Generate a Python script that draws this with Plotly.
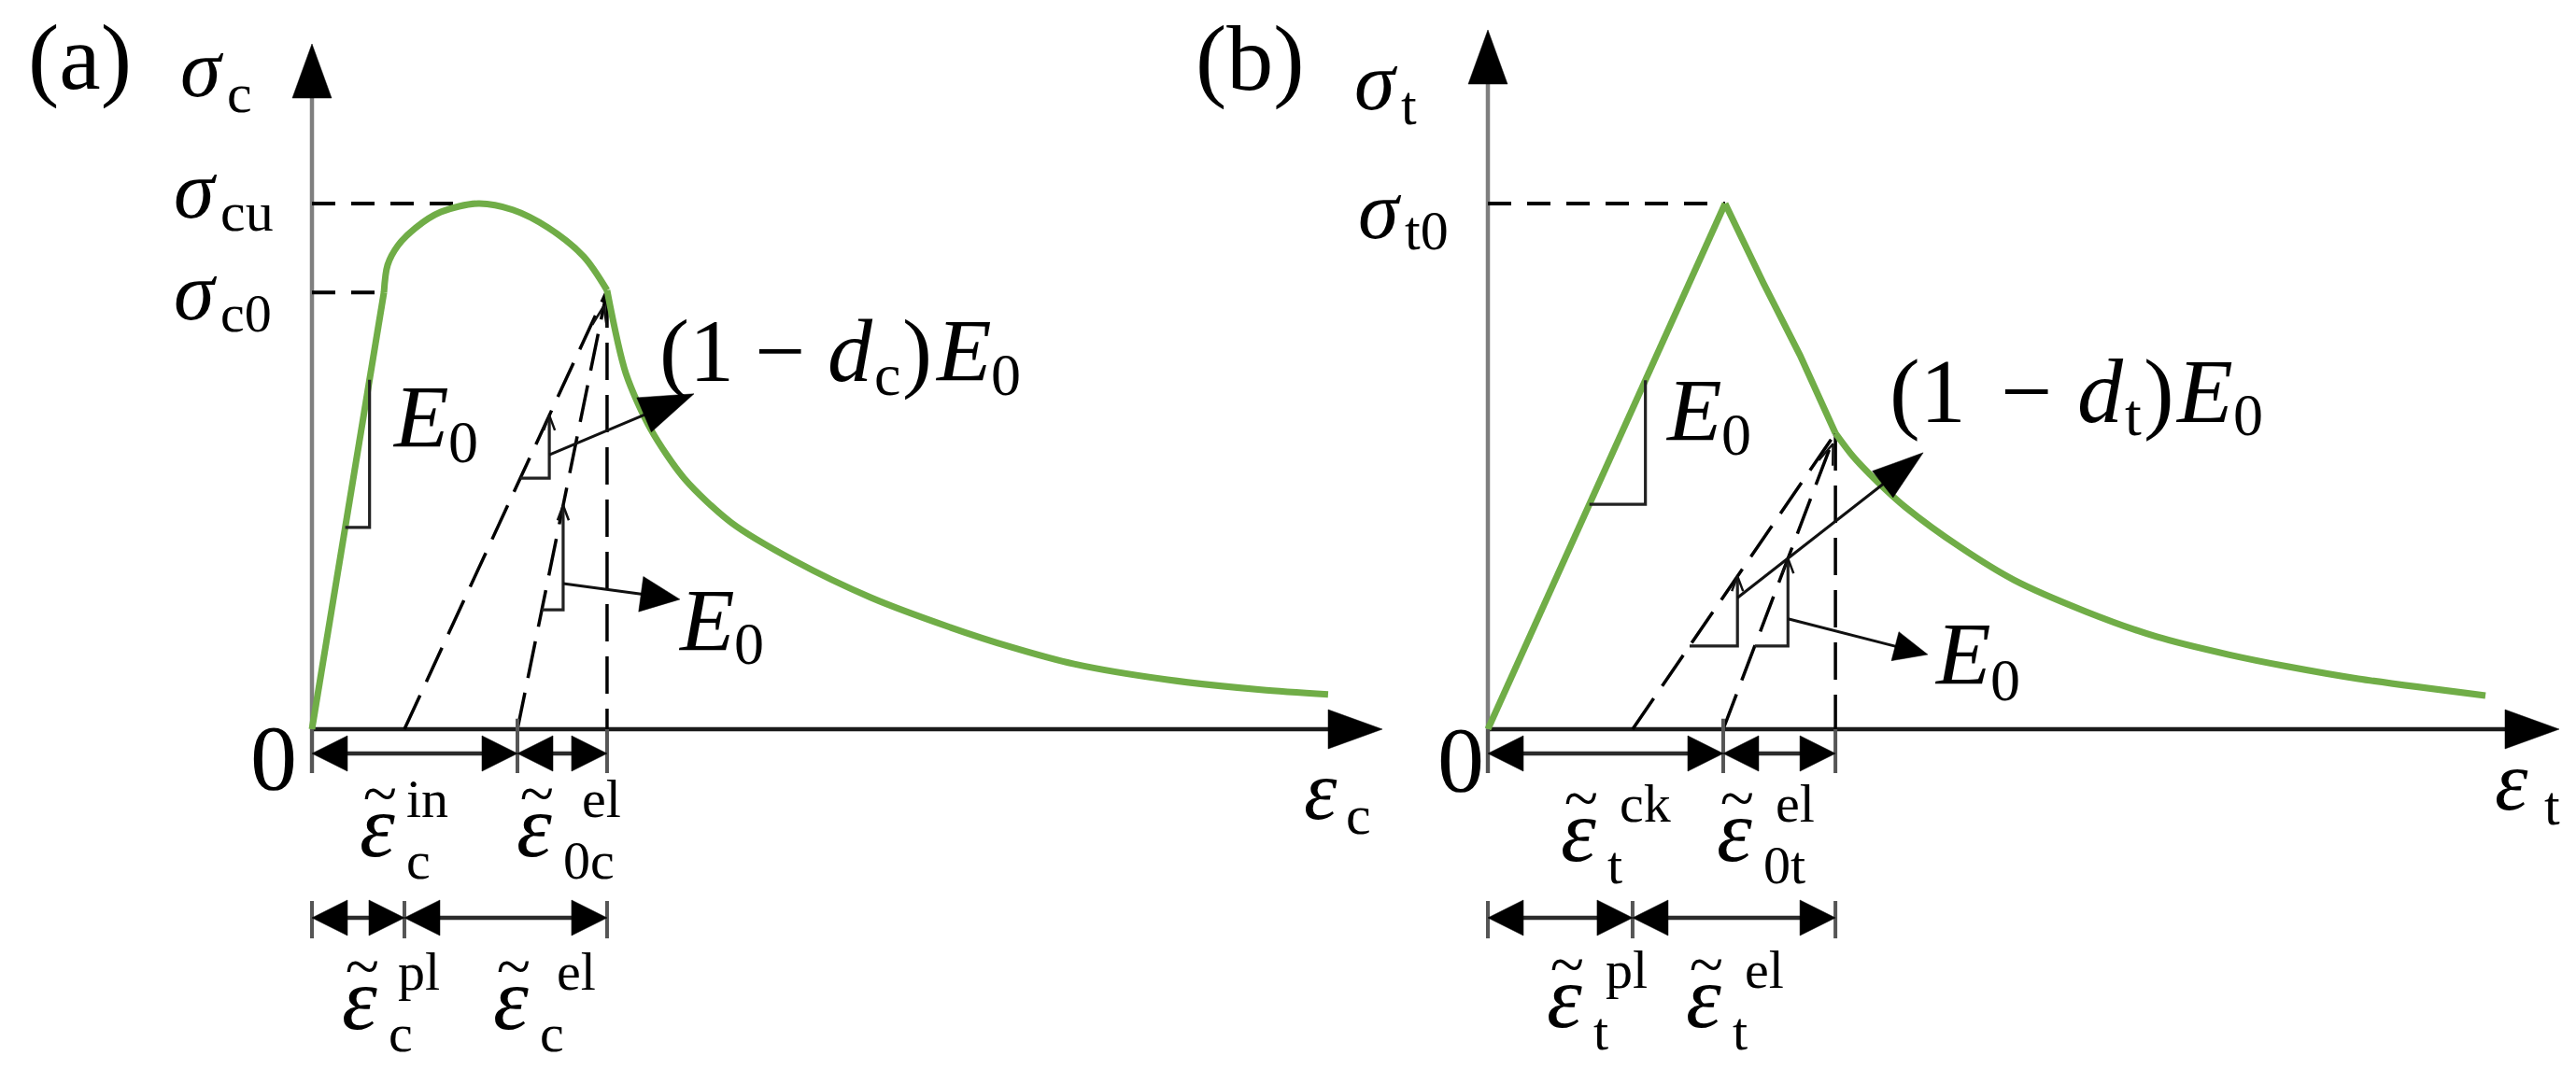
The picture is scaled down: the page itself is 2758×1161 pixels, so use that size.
import math
import plotly.graph_objects as go

W, H = 2758, 1161
GREEN = "#70AD47"
FONT = "Liberation Serif"

# ---------------- data (schematic, normalised units) ----------------
# (a) uniaxial compression: strain / peak strain, stress / sigma_cu
comp_rise_strain = [0.0, 0.433]
comp_rise_stress = [0.0, 0.831]
comp_dome_strain = [0.433, 0.455, 0.517, 0.624, 0.775, 1.000, 1.208, 1.421, 1.635, 1.775]
comp_dome_stress = [0.831, 0.883, 0.920, 0.954, 0.984, 1.000, 0.988, 0.954, 0.899, 0.835]
comp_decay_strain = [1.775, 1.888, 2.039, 2.242, 2.522, 2.899, 3.365, 3.837, 4.208, 4.584,
                     5.146, 5.708, 6.112]
comp_decay_stress = [0.835, 0.677, 0.570, 0.476, 0.393, 0.321, 0.250, 0.194, 0.156, 0.124,
                     0.094, 0.075, 0.066]
comp_eps_c0, comp_sig_c0 = 0.433, 0.831      # elastic limit
comp_eps_cu, comp_sig_cu = 1.000, 1.000      # peak
comp_unload = (1.775, 0.835)                 # unloading point
comp_eps_pl = 0.556                          # plastic strain (damaged unloading intercept)
comp_eps_in = 1.236                          # inelastic strain (E0 unloading intercept)

# (b) uniaxial tension: strain / cracking strain, stress / sigma_t0
tens_rise_strain = [0.0, 1.0]
tens_rise_stress = [0.0, 1.0]
tens_drop_strain = [1.000, 1.161, 1.315, 1.465]
tens_drop_stress = [1.000, 0.849, 0.712, 0.563]
tens_decay_strain = [1.465, 1.539, 1.646, 1.764, 1.992, 2.217, 2.520, 2.819, 3.122, 3.374,
                     3.669, 4.205]
tens_decay_stress = [0.563, 0.519, 0.469, 0.421, 0.346, 0.284, 0.224, 0.176, 0.142, 0.119,
                     0.096, 0.064]
tens_eps_t0, tens_sig_t0 = 1.0, 1.0
tens_unload = (1.465, 0.563)
tens_eps_pl = 0.610
tens_eps_ck = 0.992

# ---------------- panel geometry (pixels) ----------------
PANELS = {
    "a": dict(xa="x", ya="y", ox=334, oy=781, sx=178.0, sy=563.0, left=300, right=1510,
              ytip=47, xtip=1480),
    "b": dict(xa="x2", ya="y2", ox=1593, oy=781, sx=254.0, sy=563.0, left=1560, right=2758,
              ytip=32, xtip=2740),
}

fig = go.Figure()


def line(p, xs, ys, color="black", width=3.5, dash=None, shape="linear", smoothing=0.9):
    P = PANELS[p]
    ln = dict(color=color, width=width, shape=shape)
    if dash:
        ln["dash"] = dash
    if shape == "spline":
        ln["smoothing"] = smoothing
    fig.add_trace(go.Scatter(x=xs, y=ys, xaxis=P["xa"], yaxis=P["ya"], mode="lines",
                             line=ln, hoverinfo="skip", showlegend=False))


def _wings(p, tx, ty, dxp, dyp, L, Wd):
    P = PANELS[p]
    n = math.hypot(dxp, dyp)
    ux, uy = dxp / n, dyp / n
    vx, vy = -uy, ux
    w1 = (tx + (-ux * L + vx * Wd) / P["sx"], ty + (-uy * L + vy * Wd) / P["sy"])
    w2 = (tx + (-ux * L - vx * Wd) / P["sx"], ty + (-uy * L - vy * Wd) / P["sy"])
    return w1, w2


def head(p, tx, ty, dxp, dyp, L, Wd, color="black"):
    P = PANELS[p]
    w1, w2 = _wings(p, tx, ty, dxp, dyp, L, Wd)
    fig.add_trace(go.Scatter(x=[tx, w1[0], w2[0], tx], y=[ty, w1[1], w2[1], ty],
                             xaxis=P["xa"], yaxis=P["ya"], mode="lines",
                             fill="toself", fillcolor=color, line=dict(width=0.5, color=color),
                             hoverinfo="skip", showlegend=False))


def chevron(p, tx, ty, dxp, dyp, L=16, Wd=6):
    w1, w2 = _wings(p, tx, ty, dxp, dyp, L, Wd)
    line(p, [w1[0], tx, w2[0]], [w1[1], ty, w2[1]], color="#111111", width=2.5)


def arrow(p, x0, y0, x1, y1, L, Wd, width=3.0):
    P = PANELS[p]
    dxp, dyp = (x1 - x0) * P["sx"], (y1 - y0) * P["sy"]
    n = math.hypot(dxp, dyp)
    bx = x1 - dxp / n * (L - 2) / P["sx"]
    by = y1 - dyp / n * (L - 2) / P["sy"]
    line(p, [x0, bx], [y0, by], width=width, color="#111111")
    head(p, x1, y1, dxp, dyp, L, Wd)


def dim(p, x0, x1, y, L=38, Wd=19):
    P = PANELS[p]
    line(p, [x0 + (L - 2) / P["sx"], x1 - (L - 2) / P["sx"]], [y, y], color="#2b2b2b", width=4.5)
    head(p, x0, y, -1, 0, L, Wd)
    head(p, x1, y, 1, 0, L, Wd)


def tri(p, p0, p1, t1, t2, cap=False):
    ax_ = p0[0] + t1 * (p1[0] - p0[0]); ay_ = p0[1] + t1 * (p1[1] - p0[1])
    bx_ = p0[0] + t2 * (p1[0] - p0[0]); by_ = p0[1] + t2 * (p1[1] - p0[1])
    line(p, [ax_, bx_, bx_], [ay_, ay_, by_], color="#222222", width=3.2)
    if cap:
        chevron(p, bx_, by_, 0, 1)
    return bx_, ay_, by_


def axes(p):
    P = PANELS[p]
    ytip = (P["oy"] - P["ytip"]) / P["sy"]
    xtip = (P["xtip"] - P["ox"]) / P["sx"]
    L, Wd = 58, 21
    line(p, [0, 0], [-47 / P["sy"], ytip - (L - 3) / P["sy"]], color="#7f7f7f", width=4.5)
    head(p, 0, ytip, 0, 1, L, Wd)
    line(p, [0, xtip - (L - 3) / P["sx"]], [0, 0], color="#1a1a1a", width=4.5)
    head(p, xtip, 0, 1, 0, L, Wd)


def txt(px, base, s, size, anchor="left"):
    yc = base - 0.3375 * size
    fig.add_annotation(x=px / W, y=1 - yc / H, xref="paper", yref="paper", text=s,
                       showarrow=False, xanchor=anchor, yanchor="middle", borderpad=0,
                       font=dict(family=FONT, size=size, color="black"))


def sym(left, base, main, size, sub, sub_left, sub_base, small):
    """symbol + subscript as two texts side by side"""
    txt(left, base, main, size)
    txt(sub_left, sub_base, sub, small)


def eps_label(left, base, sub, sup, sub_dx, sup_dx, size=96, small=58):
    # epsilon, then a raised tilde pulled back over it (baseline-shift): one text
    s = ("<span style='letter-spacing:-34px'><i>ε</i></span>"
         "<span style='font-size:67px;baseline-shift:44px'>~</span>")
    yc = base - 0.43 * size
    fig.add_annotation(x=left / W, y=1 - yc / H, xref="paper", yref="paper", text=s,
                       showarrow=False, xanchor="left", yanchor="middle", borderpad=0,
                       font=dict(family=FONT, size=size, color="black"))
    txt(left + sup_dx, base - 42, sup, small)
    txt(left + sub_dx, base + 24, sub, small)


DASH_H = "25px,17px"
DASH_S = "40px,16px"
ROW1 = -26 / 563.0
ROW2 = -202 / 563.0
TICK1 = (0.0, -47 / 563.0)
TICK2 = (-184 / 563.0, -224 / 563.0)

# ======================= panel (a) =======================
axes("a")
line("a", [0, comp_eps_cu], [comp_sig_cu, comp_sig_cu], dash=DASH_H, width=4)
line("a", [0, comp_eps_c0], [comp_sig_c0, comp_sig_c0], dash=DASH_H, width=4)
line("a", [comp_unload[0], comp_unload[0]], [comp_unload[1], 0], dash=DASH_S, width=3.5)
line("a", [comp_eps_pl, comp_unload[0]], [0, comp_unload[1]], dash=DASH_S, width=3.5)
line("a", [comp_eps_in, comp_unload[0]], [0, comp_unload[1]], dash=DASH_S, width=3.5)
line("a", comp_rise_strain, comp_rise_stress, color=GREEN, width=7)
line("a", comp_dome_strain, comp_dome_stress, color=GREEN, width=7, shape="spline")
line("a", comp_decay_strain, comp_decay_stress, color=GREEN, width=7, shape="spline", smoothing=0.8)
chevron("a", comp_unload[0] - 0.02, comp_unload[1] - 0.03,
        (comp_unload[0] - comp_eps_in) * 178, comp_unload[1] * 563, L=22, Wd=8)
tri("a", (0, 0), (comp_eps_c0, comp_sig_c0), 0.462, 0.80)
lx1, _, _ = tri("a", (comp_eps_pl, 0), comp_unload, 0.572, 0.715, cap=True)
lx2, _, _ = tri("a", (comp_eps_in, 0), comp_unload, 0.272, 0.510, cap=True)
arrow("a", lx1, 0.522, 2.298, 0.638, 58, 20)
arrow("a", lx2, 0.277, 2.213, 0.247, 42, 19)
for xv in [0, comp_eps_in, comp_unload[0]]:
    line("a", [xv, xv], [TICK1[0] + (0.02 if xv == comp_eps_in else 0), TICK1[1]],
         color="#555555", width=4)
for xv in [0, comp_eps_pl, comp_unload[0]]:
    line("a", [xv, xv], list(TICK2), color="#555555", width=4)
dim("a", 0, comp_eps_in, ROW1)
dim("a", comp_eps_in, comp_unload[0], ROW1)
dim("a", 0, comp_eps_pl, ROW2)
dim("a", comp_eps_pl, comp_unload[0], ROW2)

# ======================= panel (b) =======================
axes("b")
line("b", [0, tens_eps_t0], [tens_sig_t0, tens_sig_t0], dash=DASH_H, width=4)
line("b", [tens_unload[0], tens_unload[0]], [tens_unload[1], 0], dash=DASH_S, width=3.5)
line("b", [tens_eps_pl, tens_unload[0]], [0, tens_unload[1]], dash=DASH_S, width=3.5)
line("b", [tens_eps_ck, tens_unload[0]], [0, tens_unload[1]], dash=DASH_S, width=3.5)
line("b", tens_rise_strain, tens_rise_stress, color=GREEN, width=7)
line("b", tens_drop_strain, tens_drop_stress, color=GREEN, width=7)
line("b", tens_decay_strain, tens_decay_stress, color=GREEN, width=7, shape="spline", smoothing=0.8)
chevron("b", tens_unload[0] - 0.01, tens_unload[1] - 0.02,
        (tens_unload[0] - tens_eps_ck) * 254, tens_unload[1] * 563, L=22, Wd=8)
tri("b", (0, 0), (tens_eps_t0, tens_sig_t0), 0.428, 0.664)
mx1, _, _ = tri("b", (tens_eps_pl, 0), tens_unload, 0.281, 0.517, cap=True)
mx2, _, _ = tri("b", (tens_eps_ck, 0), tens_unload, 0.281, 0.577, cap=True)
arrow("b", mx1, 0.250, 1.835, 0.526, 55, 18)
arrow("b", mx2, 0.210, 1.854, 0.142, 36, 16)
for xv in [0, tens_eps_ck, tens_unload[0]]:
    line("b", [xv, xv], [TICK1[0] + (0.02 if xv == tens_eps_ck else 0), TICK1[1]],
         color="#555555", width=4)
for xv in [0, tens_eps_pl, tens_unload[0]]:
    line("b", [xv, xv], list(TICK2), color="#555555", width=4)
dim("b", 0, tens_eps_ck, ROW1)
dim("b", tens_eps_ck, tens_unload[0], ROW1)
dim("b", 0, tens_eps_pl, ROW2)
dim("b", tens_eps_pl, tens_unload[0], ROW2)

# ======================= texts =======================
# panel (a)
txt(29, 95, "(a)", 100)
sym(192, 103, "<i>σ</i>", 88, "c", 242, 120, 60)
sym(185, 233, "<i>σ</i>", 88, "cu", 235, 247, 60)
sym(185, 342, "<i>σ</i>", 88, "c0", 235, 355, 58)
txt(267, 845, "0", 100)
sym(1395, 877, "<i>ε</i>", 90, "c", 1440, 893, 60)
sym(419, 479, "<i>E</i>", 96, "0", 479, 495, 64)
txt(705, 408, "(1", 96)
txt(807, 408, "−", 96)
sym(885, 408, "<i>d</i>", 96, "c", 935, 423, 64)
txt(965, 408, ")", 96)
sym(1000, 408, "<i>E</i>", 96, "0", 1060, 423, 64)
sym(725, 697, "<i>E</i>", 96, "0", 785, 711, 64)
eps_label(384, 917, "c", "in", 50, 50)
eps_label(552, 917, "0c", "el", 50, 70)
eps_label(365, 1102, "c", "pl", 50, 60)
eps_label(527, 1102, "c", "el", 50, 68)

# panel (b)
txt(1279, 96, "(b)", 100)
sym(1449, 117, "<i>σ</i>", 88, "t", 1499, 133, 60)
sym(1453, 255, "<i>σ</i>", 88, "t0", 1503, 267, 60)
txt(1538, 847, "0", 100)
sym(2670, 867, "<i>ε</i>", 90, "t", 2723, 883, 60)
sym(1782, 472, "<i>E</i>", 96, "0", 1842, 487, 64)
txt(2022, 452, "(1", 98)
txt(2141, 452, "−", 98)
sym(2223, 452, "<i>d</i>", 98, "t", 2274, 466, 64)
txt(2294, 452, ")", 98)
sym(2328, 452, "<i>E</i>", 98, "0", 2390, 466, 64)
sym(2070, 733, "<i>E</i>", 96, "0", 2130, 750, 64)
eps_label(1670, 922, "t", "ck", 50, 63)
eps_label(1837, 922, "0t", "el", 50, 63)
eps_label(1655, 1100, "t", "pl", 50, 63)
eps_label(1804, 1100, "t", "el", 50, 63)

# ======================= layout =======================
lay = {}
for key, P, xn, yn in [("a", PANELS["a"], "xaxis", "yaxis"), ("b", PANELS["b"], "xaxis2", "yaxis2")]:
    xr = [(P["left"] - P["ox"]) / P["sx"], (P["right"] - P["ox"]) / P["sx"]]
    yr = [(P["oy"] - H) / P["sy"], P["oy"] / P["sy"]]
    lay[xn] = dict(domain=[P["left"] / W, P["right"] / W], range=xr, visible=False,
                   fixedrange=True, anchor=P["ya"])
    lay[yn] = dict(domain=[0, 1], range=yr, visible=False, fixedrange=True, anchor=P["xa"])

fig.update_layout(width=W, height=H, margin=dict(l=0, r=0, t=0, b=0, pad=0),
                  paper_bgcolor="white", plot_bgcolor="rgba(0,0,0,0)", showlegend=False,
                  **lay)

fig.write_html("out.html", config={"displayModeBar": False, "staticPlot": True},
               post_script="document.body.style.margin='0';document.body.style.overflow='hidden';")
